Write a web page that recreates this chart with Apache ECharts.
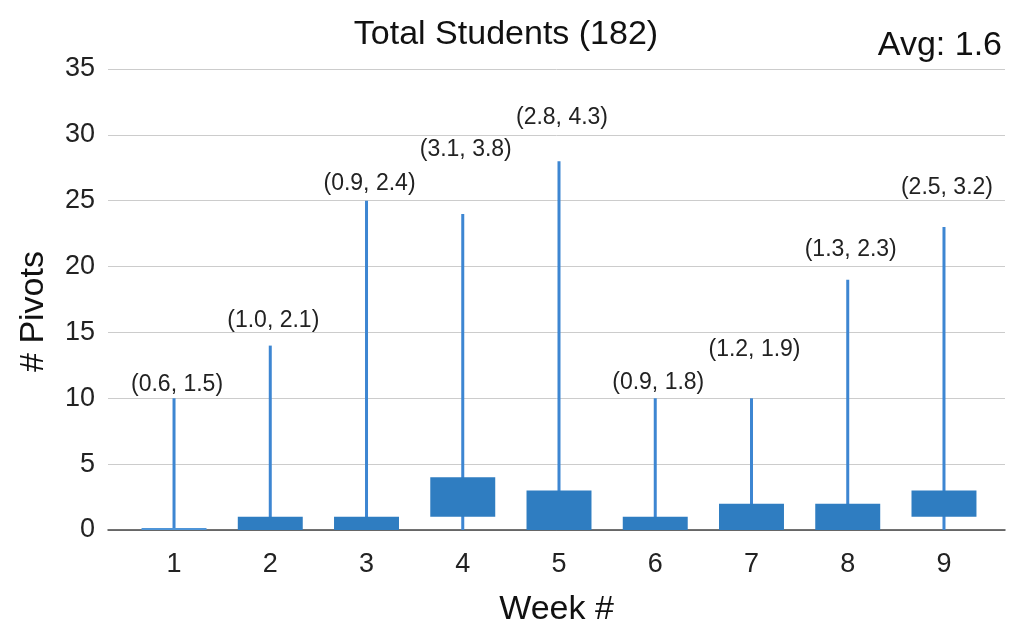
<!DOCTYPE html>
<html>
<head>
<meta charset="utf-8">
<script src="https://cdn.jsdelivr.net/npm/echarts@6/dist/echarts.min.js"></script>
<style>html,body{margin:0;padding:0;background:#fff;}#chart{width:1012px;height:628px;}</style>
</head>
<body>
<div id="chart"></div>
<script>
const weeks = [1, 2, 3, 4, 5, 6, 7, 8, 9];
const maxValues = [10, 14, 25, 24, 28, 10, 10, 19, 23];
const boxLow = [0, 0, 0, 1, 0, 0, 0, 0, 1];
const boxHigh = [0.15, 1, 1, 4, 3, 1, 2, 2, 3];
const meanValues = [0.6, 1.0, 0.9, 3.1, 2.8, 0.9, 1.2, 1.3, 2.5];
const stdValues = [1.5, 2.1, 2.4, 3.8, 4.3, 1.8, 1.9, 2.3, 3.2];
const labelLevels = [11.0, 15.9, 26.3, 28.9, 31.3, 11.2, 13.7, 21.3, 26.0];
const yTicks = [0, 5, 10, 15, 20, 25, 30, 35];
const titleText = 'Total Students (182)';
const avgText = 'Avg: 1.6';

const font = '"Liberation Sans", Arial, sans-serif';
const data = weeks.map((w, i) => [w, maxValues[i], boxLow[i], boxHigh[i], labelLevels[i], meanValues[i], stdValues[i]]);

const chart = echarts.init(document.getElementById('chart'), null, {renderer: 'canvas'});
chart.setOption({
  animation: false,
  backgroundColor: '#fff',
  textStyle: {fontFamily: font},
  title: [
    {text: titleText, left: 'center', top: 13, textStyle: {fontFamily: font, fontSize: 34, fontWeight: 'normal', color: '#111'}},
    {text: avgText, right: 5, top: 24, textStyle: {fontFamily: font, fontSize: 34, fontWeight: 'normal', color: '#111'}}
  ],
  grid: {left: 108, right: 7, top: 69, bottom: 98, outerBoundsMode: 'none', containLabel: false},
  xAxis: {
    type: 'value', min: 0.314, max: 9.634,
    name: 'Week #', nameLocation: 'middle', nameGap: 63,
    nameTextStyle: {fontFamily: font, fontSize: 34, color: '#111'},
    axisLine: {show: true, onZero: true, lineStyle: {color: '#444', width: 1.5}},
    axisTick: {show: false},
    splitLine: {show: false},
    axisLabel: {customValues: weeks, fontSize: 27, color: '#222', margin: 21, fontFamily: font}
  },
  yAxis: {
    type: 'value', min: 0, max: 35, interval: 5,
    name: '# Pivots', nameLocation: 'middle', nameGap: 57,
    nameTextStyle: {fontFamily: font, fontSize: 34, color: '#111', padding: [0, 24, 0, 0]},
    axisLine: {show: false}, axisTick: {show: false},
    splitLine: {lineStyle: {color: '#ccc', width: 1}},
    axisLabel: {fontSize: 27, color: '#222', margin: 13, fontFamily: font,
      formatter: v => yTicks.includes(v) ? String(v) : ''}
  },
  series: [{
    type: 'custom',
    data: data,
    encode: {x: 0, y: [1, 2, 3]},
    renderItem: function (params, api) {
      const x = api.value(0);
      const zero = api.coord([x, 0]);
      const top = api.coord([x, api.value(1)]);
      const lo = api.coord([x, api.value(2)]);
      const hi = api.coord([x, api.value(3)]);
      const lab = api.coord([x, api.value(4)]);
      const bw = api.size([1, 0])[0] * 0.675;
      const thin = (api.value(3) - api.value(2)) < 0.5;
      return {
        type: 'group',
        children: [
          {type: 'line', shape: {x1: zero[0], y1: zero[1], x2: top[0], y2: top[1]},
            style: {stroke: '#3d86d2', lineWidth: 3}},
          {type: 'rect', shape: {x: hi[0] - bw / 2, y: hi[1], width: bw, height: lo[1] - hi[1]},
            style: {fill: thin ? '#4f95d8' : '#2f7dc1'}},
          {type: 'text', x: lab[0] + 3, y: lab[1],
            style: {text: '(' + api.value(5).toFixed(1) + ', ' + api.value(6).toFixed(1) + ')',
              fontFamily: font, fontSize: 23, fill: '#222', align: 'center', verticalAlign: 'middle'}}
        ]
      };
    }
  }]
});
</script>
</body>
</html>
